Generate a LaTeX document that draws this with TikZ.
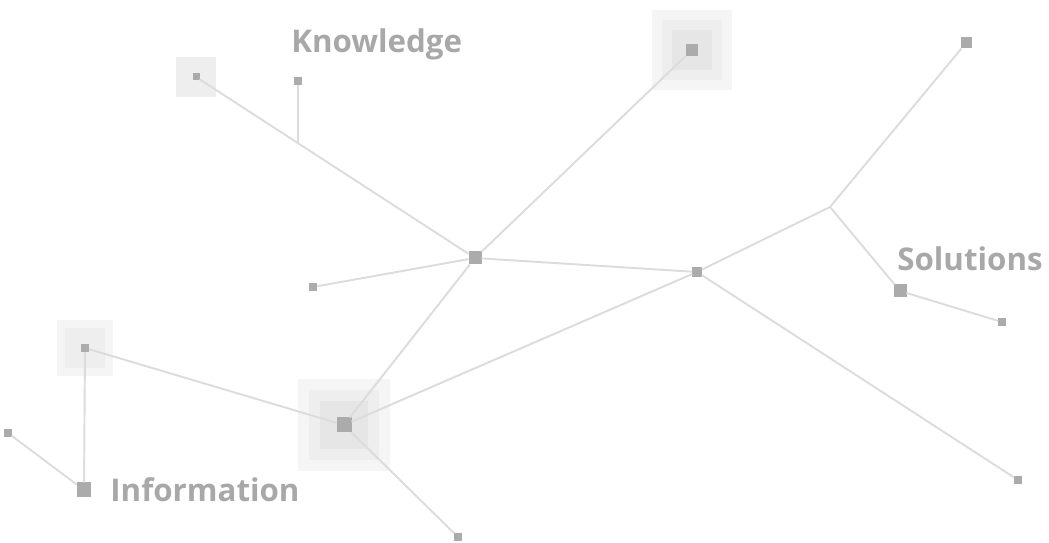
\documentclass[tikz,border=0pt]{standalone}
\usepackage{fontspec}
\setmainfont{Open Sans}
\usetikzlibrary{positioning}
\definecolor{nodeGray}{HTML}{ABABAB}
\definecolor{linkGray}{HTML}{DCDCDC}
\definecolor{textGray}{HTML}{A8A8A8}
\definecolor{haloOne}{HTML}{F5F5F5}
\definecolor{haloTwo}{HTML}{EEEEEE}
\definecolor{haloThree}{HTML}{E6E6E6}
\begin{document}
\begin{tikzpicture}[x=0.02cm, y=-0.02cm,
	sqnode/.style={rectangle, fill=nodeGray, minimum size=#1, inner sep=0pt, outer sep=0pt},
	halo/.style={rectangle, fill=#1, inner sep=0pt, outer sep=0pt},
	link/.style={draw=linkGray, line width=1.1pt},
	label/.style={text=textGray, font=\fontsize{17.8}{21}\selectfont\bfseries, anchor=base west, inner sep=0pt}]
		
		\useasboundingbox (0,0) rectangle (1049,543);
		
		%Halos behind the big nodes
		\node (centerHaloOne) at (344,425) [halo=haloOne, minimum size=1.86cm]{};
		\node (centerHaloTwo) at (344,425) [halo=haloTwo, minimum size=1.4cm]{};
		\node (centerHaloThree) at (344,425) [halo=haloThree, minimum size=0.95cm]{};
		
		\node (topHaloOne) at (692,50) [halo=haloOne, minimum size=1.62cm]{};
		\node (topHaloTwo) at (692,50) [halo=haloTwo, minimum size=1.2cm]{};
		\node (topHaloThree) at (692,50) [halo=haloThree, minimum size=0.8cm]{};
		
		\node (leftHaloOne) at (85,348) [halo=haloOne, minimum size=1.14cm]{};
		\node (leftHaloTwo) at (85,348) [halo=haloTwo, minimum size=0.8cm]{};
		
		\node (cornerHalo) at (196,77) [halo=haloTwo, minimum size=0.8cm]{};
		
		%Nodes
		\node (hub) at (475,258) [sqnode=0.26cm]{};
		\node (midNode) at (697,272) [sqnode=0.19cm]{};
		\node (centerNode) at (344,425) [sqnode=0.3cm]{};
		\node (topNode) at (692,50) [sqnode=0.24cm]{};
		\node (cornerNode) at (196,77) [sqnode=0.14cm]{};
		\node (knowNode) at (298,81) [sqnode=0.15cm]{};
		\node (leftNode) at (85,348) [sqnode=0.17cm]{};
		\node (infoNode) at (84,490) [sqnode=0.3cm]{};
		\node (edgeNode) at (8,433) [sqnode=0.15cm]{};
		\node (shortNode) at (313,287) [sqnode=0.16cm]{};
		\node (bottomNode) at (458,537) [sqnode=0.15cm]{};
		\node (farTopNode) at (966,43) [sqnode=0.22cm]{};
		\node (solNode) at (900,291) [sqnode=0.26cm]{};
		\node (solEnd) at (1002,322) [sqnode=0.16cm]{};
		\node (farBottomNode) at (1018,480) [sqnode=0.16cm]{};
		
		\coordinate (knowJoin) at (298,143);
		\coordinate (solJoin) at (830,207);
		
		%Links
		\draw[link] (hub) -- (cornerNode);
		\draw[link] (hub) -- (topNode);
		\draw[link] (hub) -- (shortNode);
		\draw[link] (hub) -- (midNode);
		\draw[link] (hub) -- (centerNode);
		\draw[link] (knowNode) -- (knowJoin);
		\draw[link] (midNode) -- (centerNode);
		\draw[link] (midNode) -- (solJoin);
		\draw[link] (midNode) -- (farBottomNode);
		\draw[link] (solJoin) -- (farTopNode);
		\draw[link] (solJoin) -- (solNode);
		\draw[link] (solNode) -- (solEnd);
		\draw[link] (centerNode) -- (leftNode);
		\draw[link] (centerNode) -- (bottomNode);
		\draw[link] (leftNode) -- (infoNode);
		\draw[link] (infoNode) -- (edgeNode);
		
		%Labels
		\node (knowLabel) at (291,53) [label]{Knowledge};
		\node (solLabel) at (897,271) [label]{Solutions};
		\node (infoLabel) at (110,502) [label]{Information};
		
\end{tikzpicture}
\end{document}
